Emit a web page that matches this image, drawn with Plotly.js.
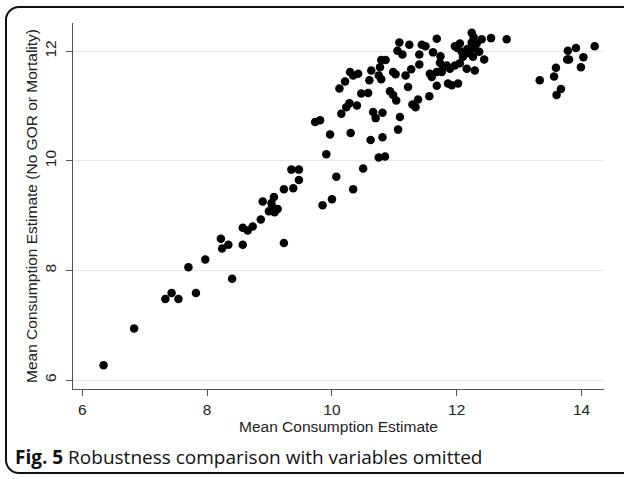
<!DOCTYPE html>
<html>
<head>
<meta charset="utf-8">
<script src="https://cdn.plot.ly/plotly-3.0.1.min.js"></script>
<style>
  html, body { margin: 0; padding: 0; width: 624px; height: 479px; overflow: hidden; background: #fff; }
  #frame { position: absolute; left: 5px; top: 6px; width: 640px; height: 468px; border: 2px solid #111; border-radius: 14px; box-sizing: border-box; pointer-events: none; z-index: 5; }
  #chart { position: absolute; left: 0; top: 0; width: 624px; height: 479px; }
</style>
</head>
<body>
<div id="chart"></div>
<div id="frame"></div>
<script>
// Mean Consumption Estimate (x) vs Mean Consumption Estimate with GOR/Mortality omitted (y)
const xVals = [
  6.34, 6.83, 7.33, 7.43, 7.54, 7.70, 7.82, 7.97, 8.22, 8.24,
  8.34, 8.40, 8.57, 8.57, 8.65, 8.73, 8.86, 8.89, 8.99, 9.03,
  9.04, 9.07, 9.08, 9.13, 9.23, 9.23, 9.35, 9.38, 9.47, 9.47,
  9.73, 9.81, 9.85, 9.91, 9.97, 10.00, 10.07, 10.12, 10.15, 10.21,
  10.23, 10.28, 10.29, 10.30, 10.34, 10.34, 10.40, 10.42, 10.47, 10.50,
  10.58, 10.60, 10.62, 10.63, 10.66, 10.70, 10.75, 10.75, 10.77, 10.79,
  10.79, 10.81, 10.81, 10.85, 10.86, 10.93, 10.98, 10.98, 11.02, 11.03,
  11.05, 11.06, 11.08, 11.09, 11.13, 11.18, 11.22, 11.24, 11.27, 11.29,
  11.34, 11.38, 11.40, 11.40, 11.44, 11.50, 11.56, 11.57, 11.60, 11.62,
  11.68, 11.68, 11.68, 11.73, 11.74, 11.76, 11.78, 11.84, 11.86, 11.89,
  11.92, 11.97, 11.97, 12.01, 12.02, 12.05, 12.05, 12.08, 12.10, 12.16,
  12.17, 12.21, 12.24, 12.24, 12.26, 12.27, 12.29, 12.29, 12.32, 12.36,
  12.40, 12.44, 12.55, 12.80,
  13.33, 13.56, 13.59, 13.60, 13.67, 13.77, 13.80, 13.78, 13.91, 13.99,
  14.03, 14.21
];
const yVals = [
  6.27, 6.94, 7.48, 7.59, 7.48, 8.06, 7.59, 8.20, 8.58, 8.40,
  8.47, 7.85, 8.47, 8.78, 8.73, 8.80, 8.93, 9.26, 9.08, 9.23,
  9.16, 9.34, 9.06, 9.12, 9.48, 8.50, 9.84, 9.50, 9.84, 9.65,
  10.71, 10.74, 9.19, 10.12, 10.48, 9.30, 9.71, 11.32, 10.86, 11.45,
  10.98, 11.05, 11.62, 10.51, 11.56, 9.48, 11.01, 11.59, 11.23, 9.86,
  11.24, 11.47, 10.38, 11.65, 10.89, 10.78, 10.06, 11.56, 11.71, 11.49,
  11.84, 10.88, 10.43, 10.08, 11.84, 11.27, 11.62, 11.20, 11.58, 11.10,
  12.01, 10.57, 12.16, 10.80, 11.94, 11.56, 11.35, 12.12, 11.67, 11.03,
  10.98, 11.12, 11.94, 11.76, 12.12, 12.09, 11.18, 11.59, 11.53, 11.98,
  11.62, 12.23, 11.37, 11.79, 11.91, 11.62, 11.71, 11.74, 11.41, 11.68,
  11.38, 11.74, 12.09, 12.06, 11.41, 11.78, 12.14, 11.99, 11.90, 11.68,
  12.04, 11.96, 12.16, 12.34, 11.90, 12.26, 12.05, 11.65, 12.14, 11.99,
  12.22, 11.85, 12.24, 12.22,
  11.47, 11.54, 11.70, 11.20, 11.31, 11.85, 11.85, 12.01, 12.06, 11.71,
  11.89, 12.09
];
const xTicks = [6, 8, 10, 12, 14];
const yTicks = [6, 8, 10, 12];
const xTitle = "Mean Consumption Estimate";
const yTitle = "Mean Consumption Estimate (No GOR or Mortality)";
const captionBold = "Fig. 5";
const captionText = " Robustness comparison with variables omitted";

const trace = {
  type: "scatter",
  mode: "markers",
  x: xVals,
  y: yVals,
  marker: { color: "#000000", size: 8.5, line: { width: 0 } },
  hoverinfo: "x+y"
};

const axisFont = { family: "Liberation Sans, Arial, sans-serif", size: 15.5, color: "#222" };

const layout = {
  width: 624,
  height: 479,
  margin: { l: 73, r: 20, t: 23, b: 90, pad: 0 },
  paper_bgcolor: "#ffffff",
  plot_bgcolor: "#ffffff",
  showlegend: false,
  font: axisFont,
  xaxis: {
    range: [5.85, 14.36],
    tickvals: xTicks,
    ticktext: xTicks.map(String),
    ticks: "outside",
    ticklen: 6,
    tickwidth: 1,
    tickcolor: "#555",
    showline: true,
    linecolor: "#555",
    linewidth: 1,
    showgrid: false,
    zeroline: false,
    tickfont: axisFont,
    title: { text: xTitle, font: axisFont, standoff: 0 }
  },
  yaxis: {
    range: [5.836, 12.516],
    tickvals: yTicks,
    ticktext: yTicks.map(String),
    tickangle: -90,
    ticks: "outside",
    ticklen: 6,
    tickwidth: 1,
    tickcolor: "#555",
    ticklabelstandoff: 4,
    showline: true,
    linecolor: "#555",
    linewidth: 1,
    showgrid: true,
    gridcolor: "#e8e8e8",
    gridwidth: 1,
    zeroline: false,
    tickfont: axisFont,
    title: { text: yTitle, font: axisFont, standoff: 0 }
  },
  annotations: [{
    xref: "paper", yref: "paper",
    x: -0.113, y: -0.185,
    xanchor: "left", yanchor: "middle",
    showarrow: false,
    align: "left",
    text: "<b>" + captionBold + "</b>" + captionText,
    font: { family: "Open Sans, Noto Sans, sans-serif", size: 19, color: "#111" }
  }]
};

Plotly.newPlot("chart", [trace], layout, { displayModeBar: false, staticPlot: true });
</script>
</body>
</html>
